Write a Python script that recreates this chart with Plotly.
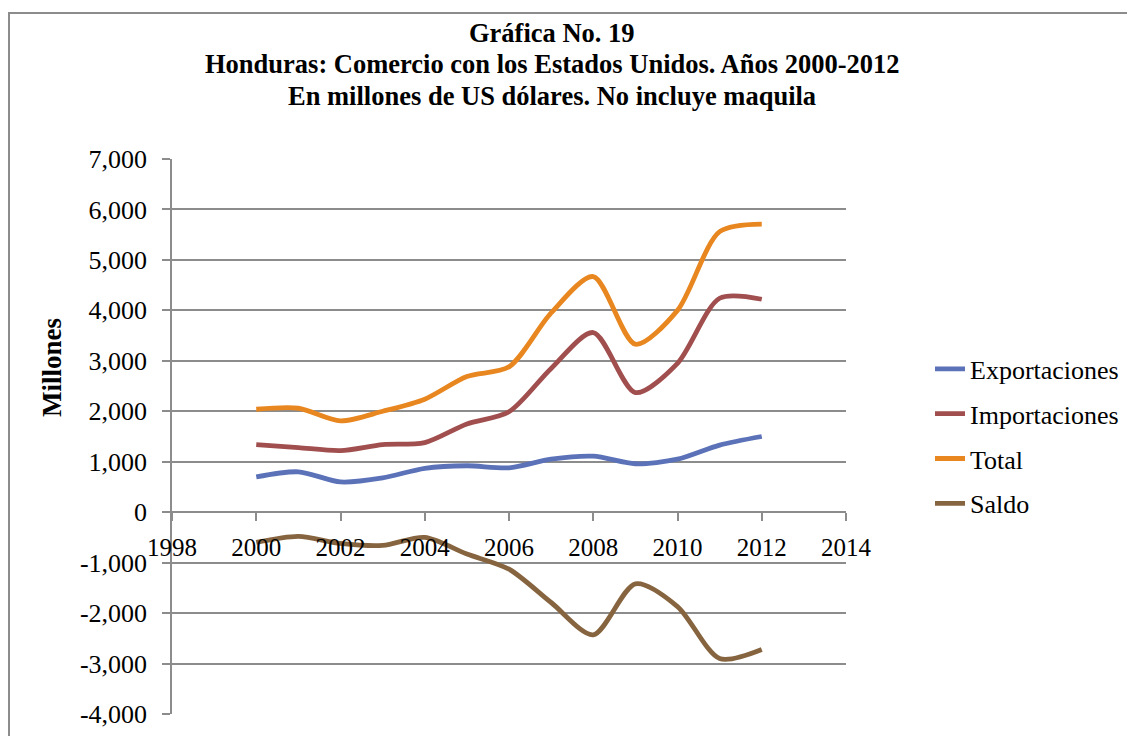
import plotly.graph_objects as go

years = [2000, 2001, 2002, 2003, 2004, 2005, 2006, 2007, 2008, 2009, 2010, 2011, 2012]
exportaciones = [700, 800, 600, 680, 870, 920, 880, 1050, 1110, 960, 1050, 1330, 1500]
importaciones = [1340, 1280, 1220, 1340, 1380, 1750, 1990, 2850, 3560, 2370, 2950, 4240, 4220]
total = [2040, 2060, 1810, 2000, 2240, 2690, 2880, 3950, 4670, 3330, 4000, 5560, 5710]
saldo = [-600, -480, -620, -660, -500, -830, -1130, -1790, -2430, -1420, -1870, -2900, -2720]

y_tickvals = [-4000, -3000, -2000, -1000, 0, 1000, 2000, 3000, 4000, 5000, 6000, 7000]
y_ticktext = ["-4,000", "-3,000", "-2,000", "-1,000", "0", "1,000", "2,000",
              "3,000", "4,000", "5,000", "6,000", "7,000"]

title_lines = [
    "Gráfica No. 19",
    "Honduras: Comercio con los Estados Unidos. Años 2000-2012",
    "En millones de US dólares. No incluye maquila",
]

series = [
    ("Exportaciones", exportaciones, "#5B72B8"),
    ("Importaciones", importaciones, "#A04F4E"),
    ("Total", total, "#E8861F"),
    ("Saldo", saldo, "#86643F"),
]

FONT = "Liberation Serif, Times New Roman, serif"
W, H = 1135, 736
OFF = 8  # page body margin
L = 172 - OFF
T = 159 - OFF
R = W - (846 - OFF)
B = H - (714 - OFF)
pw = W - L - R
ph = H - T - B


def px_to_paper_x(sx):
    return (sx - OFF - L) / pw


def px_to_paper_y(sy):
    return (H - B - (sy - OFF)) / ph


fig = go.Figure()
for name, vals, color in series:
    fig.add_trace(go.Scatter(
        x=years, y=vals, name=name, mode="lines",
        line=dict(color=color, width=4.8, shape="spline", smoothing=0.8),
        legendgroup=name,
    ))

ymin, ymax = -4000, 7000

fig.update_layout(
    width=W, height=H,
    margin=dict(l=L, r=R, t=T, b=B, pad=0),
    paper_bgcolor="white", plot_bgcolor="white",
    font=dict(family=FONT, size=26, color="black"),
    showlegend=True,
    legend=dict(
        x=px_to_paper_x(930), xanchor="left", y=0.5, yanchor="middle",
        font=dict(family=FONT, size=26, color="black"),
        traceorder="grouped", tracegroupgap=8,
        bgcolor="rgba(0,0,0,0)",
    ),
    xaxis=dict(
        range=[1998, 2014], dtick=2, tick0=1998,
        anchor="free", position=(0 - ymin) / (ymax - ymin),
        showgrid=False, zeroline=False,
        showline=True, linecolor="#8C8C8C", linewidth=1.5,
        ticks="outside", ticklen=8, tickcolor="#8C8C8C", tickwidth=1.5,
        ticklabelstandoff=5,
        tickfont=dict(family=FONT, size=25, color="black"),
    ),
    yaxis=dict(
        range=[ymin, ymax], tickvals=y_tickvals, ticktext=y_ticktext,
        showgrid=True, gridcolor="#8C8C8C", gridwidth=1.5,
        zeroline=False,
        showline=True, linecolor="#8C8C8C", linewidth=1.5,
        ticks="outside", ticklen=8, tickcolor="#8C8C8C", tickwidth=1.5,
        ticklabelstandoff=10,
        tickfont=dict(family=FONT, size=26, color="black"),
    ),
)

for line_text, sy in zip(title_lines, [33, 64, 96]):
    fig.add_annotation(
        text="<b>" + line_text + "</b>",
        xref="paper", yref="paper",
        x=px_to_paper_x(552), y=px_to_paper_y(sy),
        xanchor="center", yanchor="middle", showarrow=False,
        font=dict(family=FONT, size=26.5, color="black"),
    )

fig.add_annotation(
    text="<b>Millones</b>", textangle=-90,
    xref="paper", yref="paper",
    x=px_to_paper_x(52), y=px_to_paper_y(367),
    xanchor="center", yanchor="middle", showarrow=False,
    font=dict(family=FONT, size=27, color="black"),
)

# outer chart frame
fig.add_shape(
    type="rect", xref="paper", yref="paper",
    x0=px_to_paper_x(9), x1=px_to_paper_x(W + 60),
    y0=px_to_paper_y(H + 60), y1=px_to_paper_y(13),
    line=dict(color="#8C8C8C", width=2), fillcolor="rgba(0,0,0,0)",
    layer="below",
)

fig.write_html("out.html")
